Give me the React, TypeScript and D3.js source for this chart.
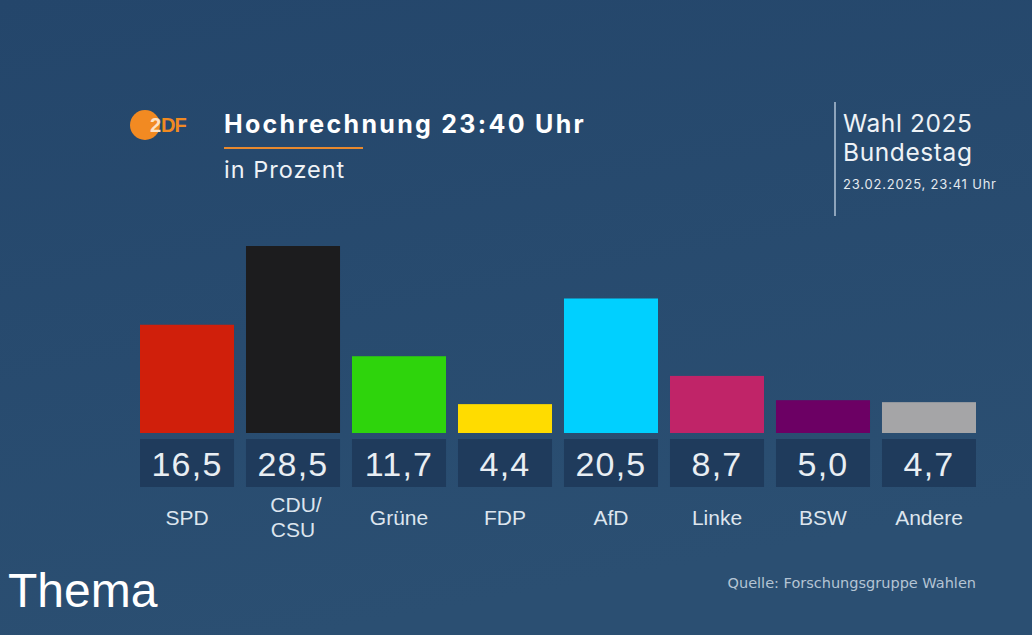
import React from "react";
import * as d3 from "d3";

const parties = ["SPD", "CDU/CSU", "Grüne", "FDP", "AfD", "Linke", "BSW", "Andere"];
const labelLines = [["SPD"], ["CDU/", "CSU"], ["Grüne"], ["FDP"], ["AfD"], ["Linke"], ["BSW"], ["Andere"]];
const values = [16.5, 28.5, 11.7, 4.4, 20.5, 8.7, 5.0, 4.7];
const colors = ["#d01f0b", "#1c1c1e", "#2ed40c", "#ffdc00", "#00d0ff", "#c02468", "#6c0064", "#a5a5a7"];

const W = 1032;
const H = 635;

export default function App() {
  const x = d3.scaleBand<string>().domain(parties).range([140, 976]).paddingInner(0.113).paddingOuter(0);
  const y = d3.scaleLinear().domain([0, 28.5]).range([433, 246]);
  const fmt = (v: number) => v.toFixed(1).replace(".", ",");
  const sans = "'Liberation Sans', Arial, sans-serif";
  const inter = "Inter, 'Liberation Sans', sans-serif";
  return (
    <svg width={W} height={H} style={{ position: "absolute", left: 0, top: 0 }}>
      <defs>
        <linearGradient id="bg" x1="0" y1="0" x2="0.3" y2="1">
          <stop offset="0" stopColor="#24466b" />
          <stop offset="1" stopColor="#2b4f72" />
        </linearGradient>
      </defs>
      <rect x={0} y={0} width={W} height={H} fill="url(#bg)" />

      {/* logo */}
      <circle cx={145} cy={125} r={15} fill="#f28a22" />
      <text x={150} y={132} fontFamily={sans} fontWeight={700} fontSize={20} fill="#fde2c4" letterSpacing={-1}>2</text>
      <text x={161} y={132} fontFamily={sans} fontWeight={700} fontSize={20} fill="#f28a22" letterSpacing={-1}>DF</text>

      {/* title */}
      <text x={224} y={133} fontFamily={inter} fontWeight={700} fontSize={25} letterSpacing={2.3} fill="#ffffff">Hochrechnung 23:40 Uhr</text>
      <line x1={224} x2={363} y1={148} y2={148} stroke="#e8892e" strokeWidth={2} />
      <text x={224} y={178} fontFamily={inter} fontWeight={400} fontSize={23.5} letterSpacing={1} fill="#eef2f6">in Prozent</text>

      {/* right header */}
      <line x1={835} x2={835} y1={102} y2={216} stroke="#8ea4bb" strokeWidth={2} />
      <text x={843} y={132} fontFamily={inter} fontSize={24.5} letterSpacing={0.6} fill="#eef2f6">Wahl 2025</text>
      <text x={843} y={161} fontFamily={inter} fontSize={24.5} letterSpacing={0.6} fill="#eef2f6">Bundestag</text>
      <text x={843} y={189} fontFamily={inter} fontSize={13} letterSpacing={0.8} fill="#e3e9ef">23.02.2025, 23:41 Uhr</text>

      {/* bars */}
      {parties.map((p, i) => {
        const bx = x(p)!;
        const bw = x.bandwidth();
        const cx = bx + bw / 2;
        return (
          <g key={p}>
            <rect x={bx} y={y(values[i])} width={bw} height={y(0) - y(values[i])} fill={colors[i]} />
            <rect x={bx} y={439} width={bw} height={48} fill="#1f3b5c" />
            <text x={cx} y={476} textAnchor="middle" fontFamily={sans} fontSize={34} letterSpacing={1.2} fill="#e9eef3">{fmt(values[i])}</text>
            {labelLines[i].length === 1 ? (
              <text x={cx} y={525} textAnchor="middle" fontFamily={sans} fontSize={21} fill="#dde5ee">{labelLines[i][0]}</text>
            ) : (
              labelLines[i].map((l, j) => (
                <text key={j} x={cx + (j === 0 ? 3 : 0)} y={512 + j * 25} textAnchor="middle" fontFamily={sans} fontSize={21} fill="#dde5ee">{l}</text>
              ))
            )}
          </g>
        );
      })}

      <text x={976} y={588} textAnchor="end" fontFamily="'DejaVu Sans', sans-serif" fontSize={14.5} fill="#b4c4d4">Quelle: Forschungsgruppe Wahlen</text>
      <text x={8} y={607} fontFamily={sans} fontSize={48} fill="#ffffff">Thema</text>
    </svg>
  );
}
